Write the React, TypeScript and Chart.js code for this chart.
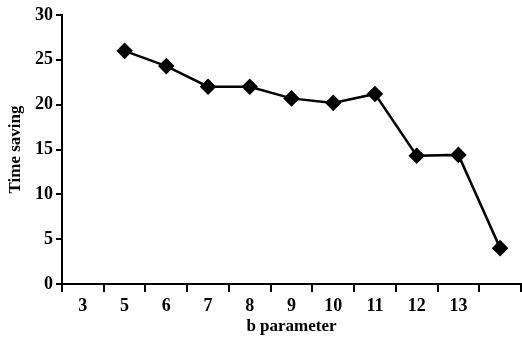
import React, { useEffect, useRef } from "react";
import { Chart, registerables } from "chart.js";

Chart.register(...registerables);

const categories = ["3", "5", "6", "7", "8", "9", "10", "11", "12", "13", ""];
const timeSaving: (number | null)[] = [null, 26.0, 24.3, 22.0, 22.0, 20.7, 20.2, 21.2, 14.3, 14.4, 4.0];
const yTicks = [0, 5, 10, 15, 20, 25, 30];

export default function App() {
  const ref = useRef<HTMLCanvasElement | null>(null);
  useEffect(() => {
    if (!ref.current) return;
    const font = { family: "'Liberation Serif', 'Times New Roman', serif", size: 18, weight: "bold" as const };
    const chart = new Chart(ref.current, {
      type: "line",
      data: {
        labels: categories,
        datasets: [
          {
            data: timeSaving,
            borderColor: "#000",
            backgroundColor: "#000",
            borderWidth: 2.5,
            pointStyle: "rectRot",
            pointRadius: 6.5,
            pointHoverRadius: 6.5,
            tension: 0,
            clip: false,
          },
        ],
      },
      options: {
        responsive: false,
        animation: false,
        layout: { autoPadding: false, padding: { top: 15, right: 1, left: 0, bottom: 0 } },
        plugins: { legend: { display: false }, tooltip: { enabled: false } },
        scales: {
          x: {
            type: "category",
            offset: true,
            border: { color: "#000", width: 2 },
            grid: { drawOnChartArea: false, color: "#000", lineWidth: 2, tickLength: 8, offset: true },
            ticks: { color: "#000", font, padding: 4, maxRotation: 0, autoSkip: false },
            title: { display: true, text: "b parameter", color: "#000", font: { ...font, size: 17 }, padding: { top: 0, bottom: 4 } },
            afterFit: (s: any) => { s.height = 57; },
          },
          y: {
            min: 0,
            max: 30,
            afterBuildTicks: (s: any) => { s.ticks = yTicks.map((v) => ({ value: v })); },
            border: { color: "#000", width: 2 },
            grid: { drawOnChartArea: false, color: "#000", lineWidth: 2, tickLength: 6 },
            ticks: { color: "#000", font, padding: 3 },
            title: { display: true, text: "Time saving", color: "#000", font: { ...font, size: 17 }, padding: { top: 5, bottom: 0 } },
            afterFit: (s: any) => { s.width = 62; },
          },
        },
      },
    });
    return () => chart.destroy();
  }, []);
  return (
    <div style={{ position: "absolute", left: 0, top: 0, width: 522, height: 341, background: "#fff" }}>
      <canvas ref={ref} width={522} height={341} />
    </div>
  );
}
